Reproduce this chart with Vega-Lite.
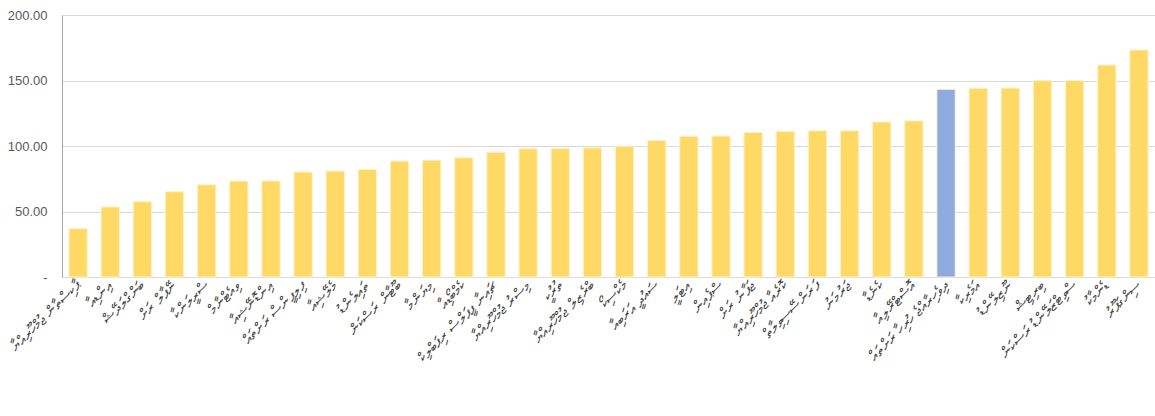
{
  "$schema": "https://vega.github.io/schema/vega-lite/v6.json",
  "width": 1093,
  "height": 262,
  "autosize": {"type": "none"},
  "padding": {"left": 62, "top": 15, "right": 0, "bottom": 139},
  "background": "white",
  "config": {
    "view": {"stroke": null},
    "font": "Liberation Sans"
  },
  "data": {
    "values": [
      {"name": "ޕާކިސްތާން ޖުމްހޫރިއްޔާ", "value": 36.9, "group": "other"},
      {"name": "އިންޑިއާ", "value": 53.5, "group": "other"},
      {"name": "ބަންގްލަދޭޝް", "value": 57.5, "group": "other"},
      {"name": "ނޭޕާލް ރަށް", "value": 65.1, "group": "other"},
      {"name": "ސްރީލަންކާ", "value": 70.4, "group": "other"},
      {"name": "ވިއެޓްނާމް", "value": 73.2, "group": "other"},
      {"name": "އިންޑޮނޭޝިއާ", "value": 73.3, "group": "other"},
      {"name": "ފިލިޕީންސް ރަށްތައް", "value": 80.1, "group": "other"},
      {"name": "މެލޭޝިއާ", "value": 80.9, "group": "other"},
      {"name": "ތައިލެންޑު", "value": 82.1, "group": "other"},
      {"name": "ބޫޓާން ރަސްކަން", "value": 88.5, "group": "other"},
      {"name": "މިޔަންމާ", "value": 89.2, "group": "other"},
      {"name": "ކެމްބޯޑިއާ", "value": 91.0, "group": "other"},
      {"name": "ޗައިނާ ޕީޕަލްސް ރިޕަބްލިކް", "value": 95.3, "group": "other"},
      {"name": "މިސްރު ޖުމްހޫރިއްޔާ", "value": 97.9, "group": "other"},
      {"name": "ތުރުކީ", "value": 98.0, "group": "other"},
      {"name": "ބްރެޒިލް ޖުމްހޫރިއްޔާ", "value": 98.6, "group": "other"},
      {"name": "މެކްސިކޯ", "value": 99.9, "group": "other"},
      {"name": "ސައުދީ އަރަބިއާ", "value": 104.2, "group": "other"},
      {"name": "އިޓަލީ", "value": 107.5, "group": "other"},
      {"name": "ސްޕެއިން", "value": 107.6, "group": "other"},
      {"name": "ޖަޕާނު ރަށް", "value": 110.3, "group": "other"},
      {"name": "ކޮރެއާ ޖުމްހޫރިއްޔާ", "value": 111.0, "group": "other"},
      {"name": "ފަރަންސޭސިވިލާތް", "value": 111.6, "group": "other"},
      {"name": "ޖަރުމަނު", "value": 111.7, "group": "other"},
      {"name": "ކެނެޑާ", "value": 118.4, "group": "other"},
      {"name": "އޮސްޓްރޭލިއާ", "value": 119.2, "group": "other"},
      {"name": "ދިވެހިރާއްޖެ ހުރިހާ ރަށްތައް", "value": 143.3, "group": "highlight"},
      {"name": "އަމެރިކާ", "value": 144.1, "group": "other"},
      {"name": "ނޫޒިލޭންޑު", "value": 144.2, "group": "other"},
      {"name": "ބިރިޓިޝް", "value": 149.9, "group": "other"},
      {"name": "ސްވިޓްޒަލޭންޑު ރަސްކަން", "value": 150.0, "group": "other"},
      {"name": "ޑެންމާކު", "value": 161.8, "group": "other"},
      {"name": "ސިންގަޕޫރު", "value": 173.3, "group": "other"}
    ]
  },
  "mark": {"type": "bar", "stroke": "#fff2cc", "strokeWidth": 1},
  "encoding": {
    "x": {
      "field": "name",
      "type": "nominal",
      "sort": null,
      "scale": {"paddingInner": 0.43, "paddingOuter": 0.215},
      "axis": {
        "title": null,
        "labelAngle": -45,
        "labelAlign": "right",
        "labelBaseline": "middle",
        "labelFontSize": 15,
        "labelColor": "#404040",
        "labelPadding": 6,
        "ticks": false,
        "domain": true,
        "domainColor": "#d9d9d9",
        "labelLimit": 190
      }
    },
    "y": {
      "field": "value",
      "type": "quantitative",
      "scale": {"domain": [0, 200], "nice": false},
      "axis": {
        "title": null,
        "values": [0, 50, 100, 150, 200],
        "labelExpr": "datum.value === 0 ? '-' : format(datum.value, '.2f')",
        "labelFontSize": 13,
        "labelColor": "#595959",
        "labelPadding": 15,
        "ticks": false,
        "domain": true,
        "domainColor": "#a6a6a6",
        "grid": true,
        "gridColor": "#d9d9d9",
        "gridWidth": 1
      }
    },
    "color": {
      "field": "group",
      "type": "nominal",
      "scale": {"domain": ["other", "highlight"], "range": ["#ffd966", "#8faadc"]},
      "legend": null
    }
  }
}
